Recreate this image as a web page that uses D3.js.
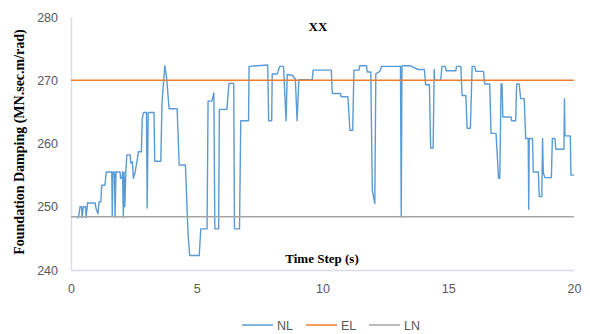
<!DOCTYPE html>
<html>
<head>
<meta charset="utf-8">
<script src="https://cdn.jsdelivr.net/npm/d3@7"></script>
<style>
  html, body { margin: 0; padding: 0; background: #fff; }
  svg { display: block; }
</style>
</head>
<body>
<svg id="chart" width="590" height="334"></svg>
<script>
// ---- data ----
const nlTime = [0.23,0.30,0.36,0.42,0.44,0.49,0.58,0.60,0.66,0.96,0.99,1.07,1.12,1.19,1.22,1.35,1.40,1.62,1.64,1.67,1.73,1.75,1.79,1.95,1.97,2.03,2.05,2.08,2.11,2.14,2.18,2.22,2.35,2.38,2.44,2.48,2.55,2.62,2.68,2.80,2.83,2.88,3.00,3.03,3.07,3.30,3.33,3.57,3.62,3.73,3.80,3.90,4.22,4.30,4.55,4.65,4.72,5.10,5.16,5.41,5.45,5.60,5.68,5.72,5.87,5.90,6.20,6.28,6.47,6.50,6.70,6.75,7.06,7.08,7.40,7.82,7.86,7.98,8.00,8.20,8.30,8.45,8.55,8.60,8.80,8.92,8.99,9.06,9.59,9.63,10.35,10.39,10.72,10.74,11.01,11.09,11.20,11.25,11.45,11.48,11.75,11.78,11.92,11.98,12.08,12.12,12.28,12.35,13.10,13.13,13.16,13.48,13.80,14.05,14.10,14.25,14.30,14.40,14.44,14.46,14.70,14.75,14.88,14.92,15.30,15.33,15.50,15.55,15.70,15.75,15.88,15.95,16.05,16.10,16.40,16.45,16.65,16.70,16.90,17.00,17.05,17.10,17.14,17.17,17.50,17.52,17.68,17.72,17.82,17.88,18.02,18.08,18.18,18.20,18.22,18.35,18.38,18.58,18.62,18.72,18.75,18.78,18.85,19.10,19.14,19.24,19.28,19.60,19.62,19.64,19.85,19.88,20.00];
const nlValue = [248.3,248.3,250.0,250.0,248.3,250.0,250.0,248.3,250.6,250.6,249.8,248.9,250.8,250.8,253.4,253.4,255.5,255.5,248.6,255.5,255.5,248.3,255.5,255.5,254.5,254.5,255.5,248.3,255.5,250.0,255.5,258.2,258.2,256.9,257.1,254.5,255.5,257.1,258.7,258.7,263.8,264.9,264.9,249.8,264.9,264.9,257.2,257.2,266.6,272.3,270.5,265.5,265.5,256.6,256.6,246.0,242.3,242.3,246.5,246.5,266.7,266.7,268.0,246.5,246.5,265.4,265.4,269.5,269.5,246.5,246.5,263.6,263.6,272.2,272.3,272.4,263.6,263.6,271.0,271.0,272.2,272.2,263.6,270.9,270.8,270.2,263.6,270.1,270.1,271.6,271.6,267.9,267.9,267.4,267.4,262.1,262.1,271.6,271.6,272.3,272.3,271.3,271.3,252.6,250.5,271.0,271.4,272.2,272.2,248.4,272.3,272.3,271.7,271.7,269.3,269.3,259.3,259.3,271.7,270.0,270.0,272.2,272.2,271.5,271.5,272.2,272.2,267.6,267.6,262.4,262.4,272.2,272.2,271.4,271.4,269.4,269.4,261.6,261.6,254.5,254.5,269.4,269.4,264.2,264.2,263.6,263.6,269.4,269.4,267.1,267.1,260.8,260.8,249.6,260.8,260.8,255.5,255.5,251.6,251.6,260.8,255.3,254.6,254.6,260.8,260.8,259.1,259.1,267.1,261.2,261.2,255.0,255.0];
const elValue = 270;
const lnValue = 248.4;
const xTicks = [0, 5, 10, 15, 20];
const yTicks = [240, 250, 260, 270, 280];
const seriesNames = ["NL", "EL", "LN"];
const seriesColors = ["#5B9BD5", "#ED7D31", "#A5A5A5"];

// ---- layout ----
const svg = d3.select("#chart");
const x = d3.scaleLinear().domain([0, 20]).range([71, 574]);
const y = d3.scaleLinear().domain([240, 280]).range([270, 17]);

const tickFont = "'Liberation Sans', Arial, sans-serif";
const serif = "'Liberation Serif', 'Times New Roman', serif";

// y axis
const yAxis = svg.append("g").attr("transform", "translate(71,0)")
  .call(d3.axisLeft(y).tickValues(yTicks).tickSize(0).tickPadding(13));
yAxis.select(".domain").attr("stroke", "#D9DCE5").attr("stroke-width", 1.5);
yAxis.selectAll("text").attr("fill", "#595959").style("font-family", tickFont).style("font-size", "12.5px");

// x axis
const xAxis = svg.append("g").attr("transform", "translate(0,270)")
  .call(d3.axisBottom(x).tickValues(xTicks).tickSize(0).tickPadding(14));
xAxis.select(".domain").attr("stroke", "#D9DCE5").attr("stroke-width", 1.5);
xAxis.selectAll("text").attr("fill", "#595959").style("font-family", tickFont).style("font-size", "12.5px");

// series
const line = d3.line().x(d => x(d[0])).y(d => y(d[1]));
svg.append("path")
  .datum(d3.zip(nlTime, nlValue))
  .attr("fill", "none").attr("stroke", seriesColors[0]).attr("stroke-width", 1.4)
  .attr("stroke-linejoin", "round")
  .attr("d", line);
svg.append("path")
  .datum([[0, elValue], [20, elValue]])
  .attr("fill", "none").attr("stroke", seriesColors[1]).attr("stroke-width", 1.5)
  .attr("d", line);
svg.append("path")
  .datum([[0, lnValue], [20, lnValue]])
  .attr("fill", "none").attr("stroke", seriesColors[2]).attr("stroke-width", 1.5)
  .attr("d", line);

// title & axis titles
svg.append("text").attr("x", 318).attr("y", 31).attr("text-anchor", "middle")
  .style("font-family", serif).style("font-weight", "bold").style("font-size", "13px")
  .text("XX");
svg.append("text").attr("x", 322).attr("y", 263).attr("text-anchor", "middle")
  .style("font-family", serif).style("font-weight", "bold").style("font-size", "13px")
  .text("Time Step (s)");
svg.append("text").attr("transform", "translate(24,142) rotate(-90)").attr("text-anchor", "middle")
  .style("font-family", serif).style("font-weight", "bold").style("font-size", "14px")
  .text("Foundation Damping (MN.sec.m/rad)");

// legend
const legendX = [242, 306, 369];
const lg = svg.append("g");
seriesNames.forEach((n, i) => {
  lg.append("line").attr("x1", legendX[i]).attr("x2", legendX[i] + 31)
    .attr("y1", 325).attr("y2", 325).attr("stroke", seriesColors[i]).attr("stroke-width", 1.5);
  lg.append("text").attr("x", legendX[i] + 35).attr("y", 329.5)
    .attr("fill", "#595959").style("font-family", tickFont).style("font-size", "12.5px")
    .text(n);
});
</script>
</body>
</html>
